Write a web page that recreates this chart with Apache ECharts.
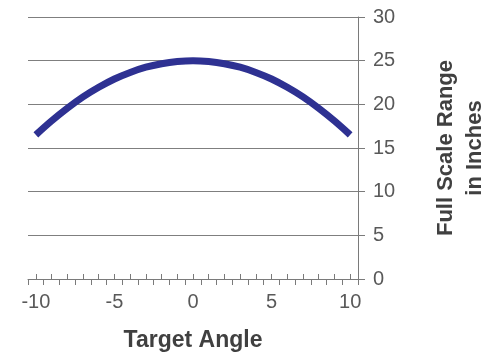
<!DOCTYPE html>
<html>
<head>
<meta charset="utf-8">
<script src="https://cdn.jsdelivr.net/npm/echarts@6/dist/echarts.min.js"></script>
<style>
html,body{margin:0;padding:0;background:#fff;}
#chart{width:495px;height:356px;}
</style>
</head>
<body>
<div id="chart"></div>
<script>
// Data
var angles = [-10,-9,-8,-7,-6,-5,-4,-3,-2,-1,0,1,2,3,4,5,6,7,8,9,10];
var rangeInches = [16.5,18.1,19.55,20.85,21.95,22.9,23.65,24.25,24.65,24.9,25.0,24.9,24.65,24.25,23.65,22.9,21.95,20.85,19.55,18.1,16.5];
var xLabelValues = [-10,-5,0,5,10];
var xMajorTicks = [-10.5,-9.5,-8.5,-7.5,-6.5,-5.5,-4.5,-3.5,-2.5,-1.5,-0.5,0.5,1.5,2.5,3.5,4.5,5.5,6.5,7.5,8.5,9.5,10.5];
var xMinorTicks = angles;
var xTitle = 'Target Angle';
var yTitle = 'Full Scale Range\nin Inches';

var font = '"Liberation Sans", Arial, sans-serif';
var axisGray = '#7a7a7a';
var chart = echarts.init(document.getElementById('chart'));
chart.setOption({
  animation: false,
  backgroundColor: '#ffffff',
  grid: {left: 28, right: 137, top: 17, bottom: 77, containLabel: false, outerBoundsMode: 'none'},
  xAxis: [{
    type: 'value', position: 'bottom', min: -10.5, max: 10.5,
    axisLine: {show: true, onZero: false, lineStyle: {color: axisGray, width: 1}},
    axisTick: {show: true, inside: false, length: 6, customValues: xMajorTicks, lineStyle: {color: axisGray}},
    axisLabel: {show: true, customValues: xLabelValues, margin: 13, fontSize: 20, color: '#595959', fontFamily: font},
    splitLine: {show: false},
    name: xTitle, nameLocation: 'middle', nameGap: 50,
    nameTextStyle: {fontSize: 23, fontWeight: 'bold', color: '#404040', fontFamily: font}
  }, {
    type: 'value', position: 'bottom', min: -10.5, max: 10.5,
    axisLine: {show: false, onZero: false},
    axisTick: {show: true, inside: true, length: 5, customValues: xMinorTicks, lineStyle: {color: axisGray}},
    axisLabel: {show: false},
    splitLine: {show: false}
  }],
  yAxis: {
    type: 'value', position: 'right', min: 0, max: 30, interval: 5,
    axisLine: {show: true, onZero: false, lineStyle: {color: axisGray, width: 1}},
    axisTick: {show: true, inside: false, length: 7, lineStyle: {color: axisGray}},
    axisLabel: {margin: 15, fontSize: 20, color: '#595959', fontFamily: font},
    splitLine: {show: true, lineStyle: {color: '#7f7f7f', width: 1}},
    name: yTitle, nameLocation: 'middle', nameRotate: 90, nameGap: 73,
    nameTextStyle: {fontSize: 22, fontWeight: 'bold', color: '#404040', fontFamily: font, lineHeight: 29, align: 'center'}
  },
  series: [{
    type: 'line', xAxisIndex: 0,
    data: angles.map(function(a, i){ return [a, rangeInches[i]]; }),
    smooth: 0.4, showSymbol: false, symbol: 'none',
    lineStyle: {color: '#2E3192', width: 7, cap: 'butt'}
  }]
});
</script>
</body>
</html>
